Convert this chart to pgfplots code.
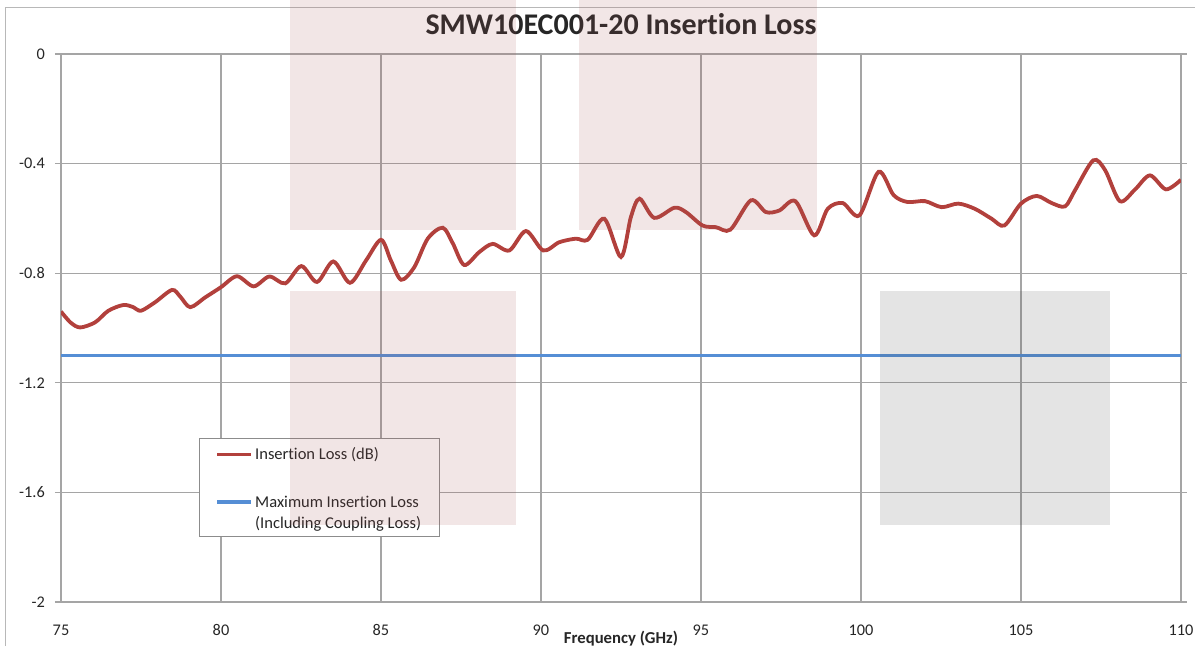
\documentclass[border=0pt]{standalone}
\usepackage{fontspec}
\setmainfont{Carlito}[Ligatures={NoCommon}]
\usepackage{pgfplots}
\pgfplotsset{compat=1.18}
\definecolor{ilred}{RGB}{178,64,60}
\definecolor{ilblue}{RGB}{85,142,213}
\definecolor{gridc}{RGB}{165,165,165}
\definecolor{txt}{RGB}{38,38,38}
\definecolor{pinkov}{RGB}{165,85,85}
\definecolor{grayov}{RGB}{75,75,75}
\begin{document}
\begin{tikzpicture}
\useasboundingbox (0pt,-646pt) rectangle (1195pt,0pt);
\draw[color=black!28, line width=1.2pt] (5.5pt,-646pt) -- (5.5pt,-7.5pt) -- (1195pt,-7.5pt);
\begin{axis}[
  at={(61pt,-602pt)}, anchor=south west,
  scale only axis, width=1120pt, height=548pt,
  xmin=75, xmax=110, ymin=-2, ymax=0,
  xtick={75,80,85,90,95,100,105,110},
  xticklabels={75,80,85,90,95,100,105,110},
  ytick={-2,-1.6,-1.2,-0.8,-0.4,0},
  yticklabels={-2,-1.6,-1.2,-0.8,-0.4,0},
  grid=major,
  grid style={color=gridc, line width=1.2pt},
  axis line style={color=gridc, line width=1.2pt},
  tick align=outside, major tick length=6pt,
  ytick style={color=gridc, line width=1.2pt},
  xtick style={draw=none},
  ticklabel style={font=\fontsize{16.3}{19}\selectfont, text=txt},
  yticklabel style={anchor=east, inner sep=0pt, xshift=-10pt},
  xticklabel style={anchor=base, inner sep=0pt, yshift=-27pt},
  title={SMW10EC001-20 Insertion Loss},
  title style={at={(0.5,1)}, anchor=base, yshift=13.3pt, inner sep=0pt,
    font=\bfseries\fontsize{30}{36}\selectfont, text=txt},
  xlabel={Frequency (GHz)},
  xlabel style={at={(0.5,0)}, anchor=base, yshift=-41pt, inner sep=0pt,
    font=\bfseries\fontsize{16.7}{20}\selectfont, text=txt},
  legend style={at={(axis cs:79.31,-1.4017)}, anchor=north west,
    draw=black!45, line width=1pt, fill=white,
    inner xsep=16pt, inner ysep=4pt, row sep=0pt, column sep=0pt,
    font=\fontsize{16.5}{19}\selectfont, text=txt,
    cells={anchor=base west, inner sep=0pt}},
  legend image code/.code={\draw[#1] (0pt,5pt) -- (34pt,5pt);},
]
\addplot[color=ilred, line width=3.8pt, smooth, tension=0.5] coordinates {
(75.00,-0.940) (75.30,-0.980) (75.60,-0.998) (76.07,-0.979) (76.48,-0.937)
(76.95,-0.916) (77.26,-0.924) (77.50,-0.937) (77.94,-0.906) (78.47,-0.861)
(78.73,-0.886) (79.04,-0.924) (79.51,-0.888) (80.00,-0.851) (80.50,-0.811)
(81.02,-0.848) (81.51,-0.812) (82.01,-0.837) (82.51,-0.774) (83.00,-0.832)
(83.51,-0.757) (84.03,-0.835) (84.53,-0.754) (85.00,-0.678) (85.31,-0.754)
(85.63,-0.824) (86.04,-0.778) (86.46,-0.674) (86.93,-0.634) (87.24,-0.690)
(87.60,-0.770) (88.07,-0.723) (88.49,-0.693) (89.01,-0.717) (89.53,-0.646)
(90.07,-0.717) (90.57,-0.687) (91.09,-0.674) (91.46,-0.678) (91.98,-0.601)
(92.50,-0.741) (92.81,-0.595) (93.08,-0.528) (93.54,-0.598) (94.17,-0.561)
(94.53,-0.577) (95.05,-0.626) (95.47,-0.632) (95.92,-0.641) (96.56,-0.534)
(97.03,-0.577) (97.45,-0.571) (97.95,-0.537) (98.54,-0.662) (98.96,-0.565)
(99.43,-0.544) (99.95,-0.589) (100.55,-0.430) (101.02,-0.515) (101.45,-0.540)
(102.00,-0.537) (102.52,-0.559) (103.04,-0.546) (103.56,-0.565) (104.08,-0.601)
(104.48,-0.626) (105.00,-0.546) (105.49,-0.518) (105.96,-0.544) (106.38,-0.556)
(106.69,-0.497) (107.26,-0.388) (107.63,-0.424) (108.09,-0.537) (108.56,-0.495)
(109.03,-0.443) (109.53,-0.494) (110.00,-0.459)
};
\addlegendentry{\rule{0pt}{15pt}Insertion Loss (dB)}
\addplot[color=ilblue, line width=3.8pt] coordinates {(75,-1.1) (110,-1.1)};
\addlegendentry{\rule{0pt}{42pt}Maximum Insertion Loss}
\addlegendimage{empty legend}
\addlegendentry{\rule[-7pt]{0pt}{23pt}(Including Coupling Loss)}
\end{axis}
\fill[pinkov, fill opacity=0.15] (290pt,0pt) rectangle (516pt,-230pt);
\fill[pinkov, fill opacity=0.15] (579pt,0pt) rectangle (817pt,-230pt);
\fill[pinkov, fill opacity=0.15] (290pt,-291pt) rectangle (516pt,-525pt);
\fill[grayov, fill opacity=0.15] (880pt,-291pt) rectangle (1110pt,-525pt);
\end{tikzpicture}
\end{document}
